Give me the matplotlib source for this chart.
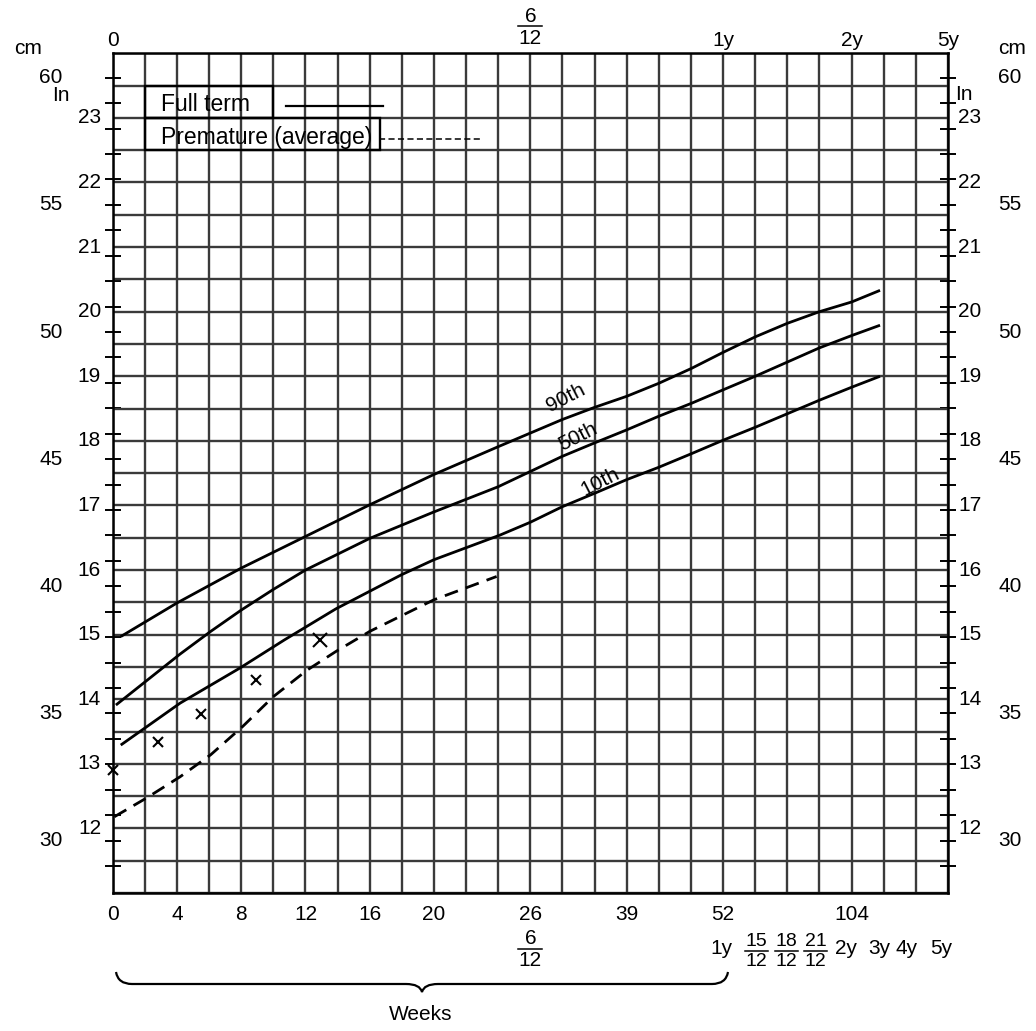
import numpy as np
import matplotlib
matplotlib.use("Agg")
import matplotlib.pyplot as plt
from matplotlib.path import Path
from matplotlib.patches import PathPatch, Rectangle
from matplotlib.lines import Line2D

plt.rcParams['font.family'] = ['Liberation Sans', 'DejaVu Sans']

W, H = 1036, 1031

# ---- age axis: weeks, spaced unevenly (2 wk, then 13 wk, 3 mo, 1 yr per column)
AGE_WEEKS = [0, 26, 39, 52, 104, 260]
AGE_COLS = [0, 13, 16, 19, 23, 26]

# ---- full-term percentile curves (age in weeks, head length in inches)
p90_weeks = [0.5, 4, 8, 12, 16, 20, 24, 30.3, 34.7, 39, 43.3, 47.7, 52, 65, 78, 91, 104, 150]
p90_in = [14.97, 15.49, 16.03, 16.52, 17.01, 17.48, 17.91, 18.33, 18.52, 18.69,
          18.89, 19.12, 19.37, 19.61, 19.82, 20.0, 20.15, 20.33]

p50_weeks = [0.2, 4.2, 6.1, 8, 10, 12, 16, 20, 24, 30.3, 34.7, 39, 43.3, 47.7, 52,
             65, 78, 91, 104, 150]
p50_in = [13.91, 14.7, 15.05, 15.38, 15.70, 16.0, 16.49, 16.90, 17.29, 17.76, 17.97, 18.17,
          18.38, 18.58, 18.79, 19.0, 19.22, 19.44, 19.63, 19.79]

p10_weeks = [0.5, 4.2, 7.9, 10.7, 13.9, 18, 20, 24.1, 26, 30.3, 34.7, 39, 43.3,
             47.7, 52, 65, 78, 91, 104, 150]
p10_in = [13.29, 13.94, 14.48, 14.92, 15.40, 15.93, 16.16, 16.54, 16.74, 16.98, 17.19,
          17.4, 17.59, 17.8, 18.01, 18.21, 18.42, 18.63, 18.83, 19.0]

# ---- premature (average) curve
prem_weeks = [0.1, 2.1, 4.2, 6.1, 8.1, 10, 12.1, 13.9, 16, 20, 23.9]
prem_in = [12.18, 12.47, 12.80, 13.14, 13.58, 14.04, 14.45, 14.74, 15.05, 15.54, 15.90]

# ---- individual measurements
obs_weeks = [0.0, 2.8, 5.5, 8.9, 12.9]
obs_in = [12.91, 13.33, 13.77, 14.30, 14.92]
obs_size = [7, 7, 7, 7, 10]

# ---- tick labels
inch_labels = list(range(12, 24))
cm_labels = [30, 35, 40, 45, 50, 55, 60]
cm_ticks = list(range(29, 61))
bottom_ticks = [0, 4, 8, 12, 16, 20, 26, 39, 52, 104]
bottom_text = ['0', '4', '8', '12', '16', '20', '26', '39', '52', '104']
top_ticks = [0, 52, 104, 260]
top_text = ['0', '1y', '2y', '5y']
age_ticks = [52, 65, 78, 91, 104, 156, 208, 260]
age_text = ['1y', '15/12', '18/12', '21/12', '2y', '3y', '4y', '5y']
age_shift = [-2, 1, -1, -4, -6, -4, -9, -7]


def fwd(w):
    return np.interp(w, AGE_WEEKS, AGE_COLS)


def inv(c):
    return np.interp(c, AGE_COLS, AGE_WEEKS)


fig = plt.figure(figsize=(W / 100, H / 100), dpi=100)
ax = fig.add_axes([112.7 / W, 1 - 893.0 / H, (948.0 - 112.7) / W, (893.0 - 53.3) / H])
ax.set_xscale('function', functions=(fwd, inv))
ax.set_xlim(0, 260)
ax.set_ylim(11, 24)

GRID = '#3a3a3a'
col_lines = inv(np.arange(0, 27))
ax.set_xticks(bottom_ticks, bottom_text)
ax.set_xticks(col_lines, minor=True)
ax.set_yticks(np.array(cm_ticks) / 2.54)
ax.set_yticks(np.arange(11, 24.01, 0.5), minor=True)
ax.grid(which='both', axis='x', color=GRID, lw=1.7)
ax.grid(which='minor', axis='y', color=GRID, lw=1.7)
ax.grid(which='major', axis='y', visible=False)
ax.set_axisbelow(True)
ax.tick_params(axis='x', which='both', length=0, labelsize=15, pad=8.5)
ax.tick_params(axis='y', which='major', direction='inout', length=11, width=1.4,
               left=True, right=True, labelleft=False, labelright=False)
ax.tick_params(axis='y', which='minor', length=0)
for s in ax.spines.values():
    s.set_linewidth(1.8)
    s.set_color('black')

# percentile curves
for xs, ys in [(p90_weeks, p90_in), (p50_weeks, p50_in), (p10_weeks, p10_in)]:
    ax.plot(xs, ys, color='black', lw=2.0, solid_capstyle='butt',
            solid_joinstyle='round', zorder=3)
ax.plot(prem_weeks, prem_in, color='black', lw=2.0, dashes=(5.0, 3.0), zorder=3)
for xw, yi, ms in zip(obs_weeks, obs_in, obs_size):
    ax.plot([xw], [yi], marker='x', color='black', ms=ms, mew=1.5, ls='none',
            clip_on=False, zorder=4)

# curve labels
for txt, xw, yi in [('90th', 30.8, 18.66), ('50th', 32.45, 18.06), ('10th', 35.4, 17.36)]:
    ax.text(xw, yi, txt, rotation=27, fontsize=15, ha='center', va='center',
            rotation_mode='anchor', zorder=5)

# legend boxes
ax.add_patch(Rectangle((2, 23.0), 8, 0.5, fill=False, ec='black', lw=1.7, zorder=4))
ax.add_patch(Rectangle((2, 22.5), 16.65 - 2, 0.5, fill=False, ec='black', lw=1.7, zorder=4))
ax.text(3.0, 23.2, 'Full term', fontsize=16.5, ha='left', va='center', zorder=5)
ax.text(3.0, 22.7, 'Premature (average)', fontsize=16.5, ha='left', va='center', zorder=5)
ax.plot([10.8, 16.8], [23.19, 23.19], color='black', lw=1.6, zorder=4)
ax.plot([16.6, 22.97], [22.67, 22.67], color='black', lw=1.1, dashes=(4, 2.2), zorder=4)

# side scales
ytr = ax.get_yaxis_transform()
AXW = 948.0 - 112.7


def xfrac(px):
    return (px - 112.7) / AXW


for v in inch_labels:
    ax.text(xfrac(101), v, str(v), transform=ytr, ha='right', va='center', fontsize=15)
    ax.text(xfrac(958), v, str(v), transform=ytr, ha='left', va='center', fontsize=15)
for v in cm_labels:
    ax.text(xfrac(51), v / 2.54, str(v), transform=ytr, ha='center', va='center', fontsize=15)
    ax.text(xfrac(998), v / 2.54, str(v), transform=ytr, ha='left', va='center', fontsize=15)
ax.text(xfrac(28), 24.07, 'cm', transform=ytr, ha='center', va='center', fontsize=15)
ax.text(xfrac(998), 24.07, 'cm', transform=ytr, ha='left', va='center', fontsize=15)
ax.text(xfrac(61), 23.34, 'In', transform=ytr, ha='center', va='center', fontsize=15)
ax.text(xfrac(955), 23.36, 'In', transform=ytr, ha='left', va='center', fontsize=15)


def col_px(weeks):
    return ax.transData.transform((weeks, 20))[0]


def fig_xy(px, py):
    return px / W, 1 - py / H


def frac_label(xpx, num, den, ynum, ybar, yden, size=14, bar=22):
    fig.text(*fig_xy(xpx, ynum), num, ha='center', va='center', fontsize=size)
    fig.text(*fig_xy(xpx, yden), den, ha='center', va='center', fontsize=size)
    x0, y0 = fig_xy(xpx - bar / 2, ybar)
    x1, _ = fig_xy(xpx + bar / 2, ybar)
    fig.add_artist(Line2D([x0, x1], [y0, y0], color='black', lw=1.1,
                          transform=fig.transFigure))


# top age labels
for w, t in zip(top_ticks, top_text):
    fig.text(*fig_xy(col_px(w), 40), t, ha='center', va='center', fontsize=15)
frac_label(col_px(26), '6', '12', 17, 26, 38, size=15, bar=24)

# second row of bottom labels
frac_label(col_px(26), '6', '12', 939, 949, 961, size=15, bar=24)
for w, t, dx in zip(age_ticks, age_text, age_shift):
    xpx = col_px(w) + dx
    if '/' in t:
        n, d = t.split('/')
        frac_label(xpx, n, d, 941, 951, 961, size=14, bar=23)
    else:
        fig.text(*fig_xy(xpx, 949), t, ha='center', va='center', fontsize=15)

# brace spanning the weeks section
pts = [(116, 972), (118, 984), (132, 984), (406, 984), (420, 984), (422, 992),
       (424, 984), (438, 984), (712, 984), (726, 984), (728, 972)]
codes = [Path.MOVETO, Path.CURVE3, Path.CURVE3, Path.LINETO, Path.CURVE3, Path.CURVE3,
         Path.CURVE3, Path.CURVE3, Path.LINETO, Path.CURVE3, Path.CURVE3]
brace = Path([fig_xy(x, y) for x, y in pts], codes)
fig.add_artist(PathPatch(brace, fill=False, lw=1.6, ec='black', transform=fig.transFigure))
fig.text(*fig_xy(421, 1015), 'Weeks', ha='center', va='center', fontsize=15)

fig.savefig('out.png', dpi=100)
